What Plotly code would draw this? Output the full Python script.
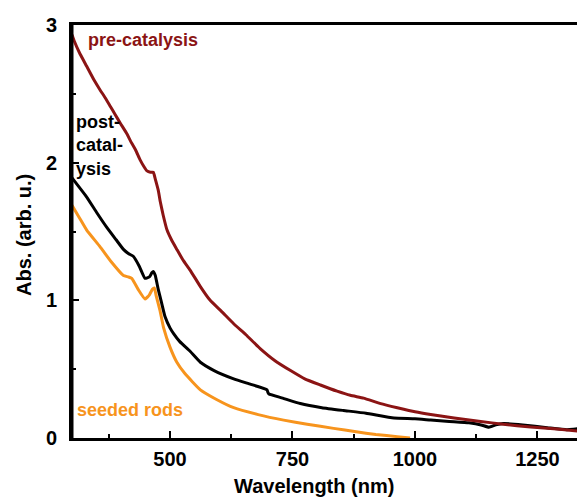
import plotly.graph_objects as go

# Wavelength (nm) / absorbance data
pre_x = [300, 305, 315, 330, 345, 357, 368, 378, 388, 398, 412, 419, 430, 439, 447, 453, 460, 466, 470, 476, 480, 486, 494, 503, 514, 527, 541, 562, 582, 605, 630, 655, 684, 715, 746, 775, 807, 841, 868, 895, 930, 964, 1000, 1032, 1080, 1134, 1180, 1236, 1290, 1348]
pre_y = [2.93, 2.88, 2.80, 2.70, 2.60, 2.53, 2.47, 2.41, 2.35, 2.29, 2.21, 2.16, 2.09, 2.02, 1.97, 1.94, 1.93, 1.93, 1.88, 1.80, 1.72, 1.62, 1.51, 1.44, 1.37, 1.29, 1.22, 1.10, 1.00, 0.92, 0.83, 0.75, 0.65, 0.56, 0.49, 0.43, 0.385, 0.34, 0.31, 0.29, 0.25, 0.22, 0.19, 0.17, 0.145, 0.12, 0.10, 0.08, 0.065, 0.045]

post_x = [300, 315, 330, 350, 371, 390, 405, 415, 425, 437, 449, 458, 463, 466, 470, 476, 483, 490, 500, 507, 520, 541, 562, 590, 630, 665, 698, 700, 702, 730, 766, 810, 854, 900, 957, 1000, 1032, 1070, 1110, 1135, 1151, 1165, 1180, 1220, 1270, 1310, 1335, 1342, 1348]
post_y = [1.89, 1.82, 1.75, 1.64, 1.53, 1.44, 1.37, 1.34, 1.32, 1.25, 1.16, 1.17, 1.20, 1.21, 1.18, 1.08, 0.98, 0.88, 0.80, 0.76, 0.70, 0.63, 0.55, 0.49, 0.43, 0.39, 0.35, 0.33, 0.32, 0.29, 0.25, 0.22, 0.20, 0.18, 0.145, 0.14, 0.13, 0.12, 0.11, 0.095, 0.078, 0.095, 0.105, 0.095, 0.075, 0.06, 0.07, 0.10, 0.12]

seed_x = [300, 315, 330, 357, 380, 405, 415, 422, 435, 449, 458, 464, 468, 472, 480, 487, 500, 514, 530, 562, 595, 630, 680, 732, 780, 834, 880, 920, 964, 990]
seed_y = [1.69, 1.60, 1.51, 1.39, 1.28, 1.18, 1.17, 1.16, 1.08, 1.01, 1.04, 1.08, 1.09, 1.03, 0.92, 0.80, 0.66, 0.55, 0.47, 0.35, 0.28, 0.22, 0.17, 0.13, 0.10, 0.07, 0.045, 0.025, 0.01, 0.0]

x_ticks = [500, 750, 1000, 1250]
y_ticks = [0, 1, 2, 3]

RED = "#8b1414"
ORANGE = "#f7941d"
FONT = "Liberation Sans, Arial, sans-serif"

# page has an 8px body margin; plot area in page pixels: x 72..585, y 25..438
PL, PR, PT, PB = 72, 585, 25, 438
PW, PH = PR - PL, PB - PT

def px(xp):
    return (xp - PL) / PW

def py(yp):
    return (PB - yp) / PH

fig = go.Figure()
fig.add_trace(go.Scatter(x=seed_x, y=seed_y, mode="lines",
                         line=dict(color=ORANGE, width=3, shape="spline", smoothing=0.4)))
fig.add_trace(go.Scatter(x=post_x, y=post_y, mode="lines",
                         line=dict(color="black", width=3, shape="spline", smoothing=0.4)))
fig.add_trace(go.Scatter(x=pre_x, y=pre_y, mode="lines",
                         line=dict(color=RED, width=3, shape="spline", smoothing=0.4)))

fig.update_layout(
    width=577, height=493,
    margin=dict(l=PL - 8, r=0, t=PT - 8, b=493 - (PB - 8)),
    paper_bgcolor="white", plot_bgcolor="white",
    showlegend=False,
    font=dict(family=FONT, color="black"),
)

fig.update_xaxes(
    range=[300, 1347], showgrid=False, zeroline=False,
    showline=True, linecolor="black", linewidth=3, mirror=True,
    ticks="inside", ticklen=7, tickwidth=2, tickcolor="black",
    tickvals=x_ticks, ticktext=[str(v) for v in x_ticks],
    tickfont=dict(family=FONT, size=20, color="black", weight="bold"),
    minor=dict(tickvals=[375, 625, 875, 1125], ticks="inside", ticklen=4, tickwidth=2, tickcolor="black"),
    ticklabelstandoff=1,
)
fig.update_yaxes(
    range=[0, 3], showgrid=False, zeroline=False,
    showline=True, linecolor="black", linewidth=3, mirror=False,
    ticks="inside", ticklen=7, tickwidth=2, tickcolor="black",
    tickvals=y_ticks, ticktext=[str(v) for v in y_ticks],
    tickfont=dict(family=FONT, size=20, color="black", weight="bold"),
    minor=dict(tickvals=[0.5, 1.5, 2.5], ticks="inside", ticklen=4, tickwidth=2, tickcolor="black"),
    ticklabelstandoff=8,
)

# left frame edge (drawn explicitly so it is always visible)
fig.add_shape(type="line", xref="paper", yref="paper", x0=0, x1=0, y0=0, y1=1,
              line=dict(color="black", width=3), layer="above")

# axis titles
fig.add_annotation(text="Wavelength (nm)", xref="paper", yref="paper",
                   x=px(314), y=py(486), showarrow=False,
                   font=dict(family=FONT, size=20, color="black", weight="bold"),
                   xanchor="center", yanchor="middle")
fig.add_annotation(text="Abs. (arb. u.)", xref="paper", yref="paper",
                   x=px(24), y=py(235), showarrow=False, textangle=-90,
                   font=dict(family=FONT, size=20, color="black", weight="bold"),
                   xanchor="center", yanchor="middle")

# series labels
fig.add_annotation(text="pre-catalysis", xref="paper", yref="paper",
                   x=px(86), y=py(40), showarrow=False,
                   font=dict(family=FONT, size=18, color=RED, weight="bold"),
                   xanchor="left", yanchor="middle")
fig.add_annotation(text="post-<br>catal-<br>ysis", xref="paper", yref="paper",
                   x=px(74), y=py(145), showarrow=False, align="left",
                   font=dict(family=FONT, size=18, color="black", weight="bold"),
                   xanchor="left", yanchor="middle")
fig.add_annotation(text="seeded rods", xref="paper", yref="paper",
                   x=px(75), y=py(410), showarrow=False,
                   font=dict(family=FONT, size=18, color=ORANGE, weight="bold"),
                   xanchor="left", yanchor="middle")

fig.write_html("out.html")
